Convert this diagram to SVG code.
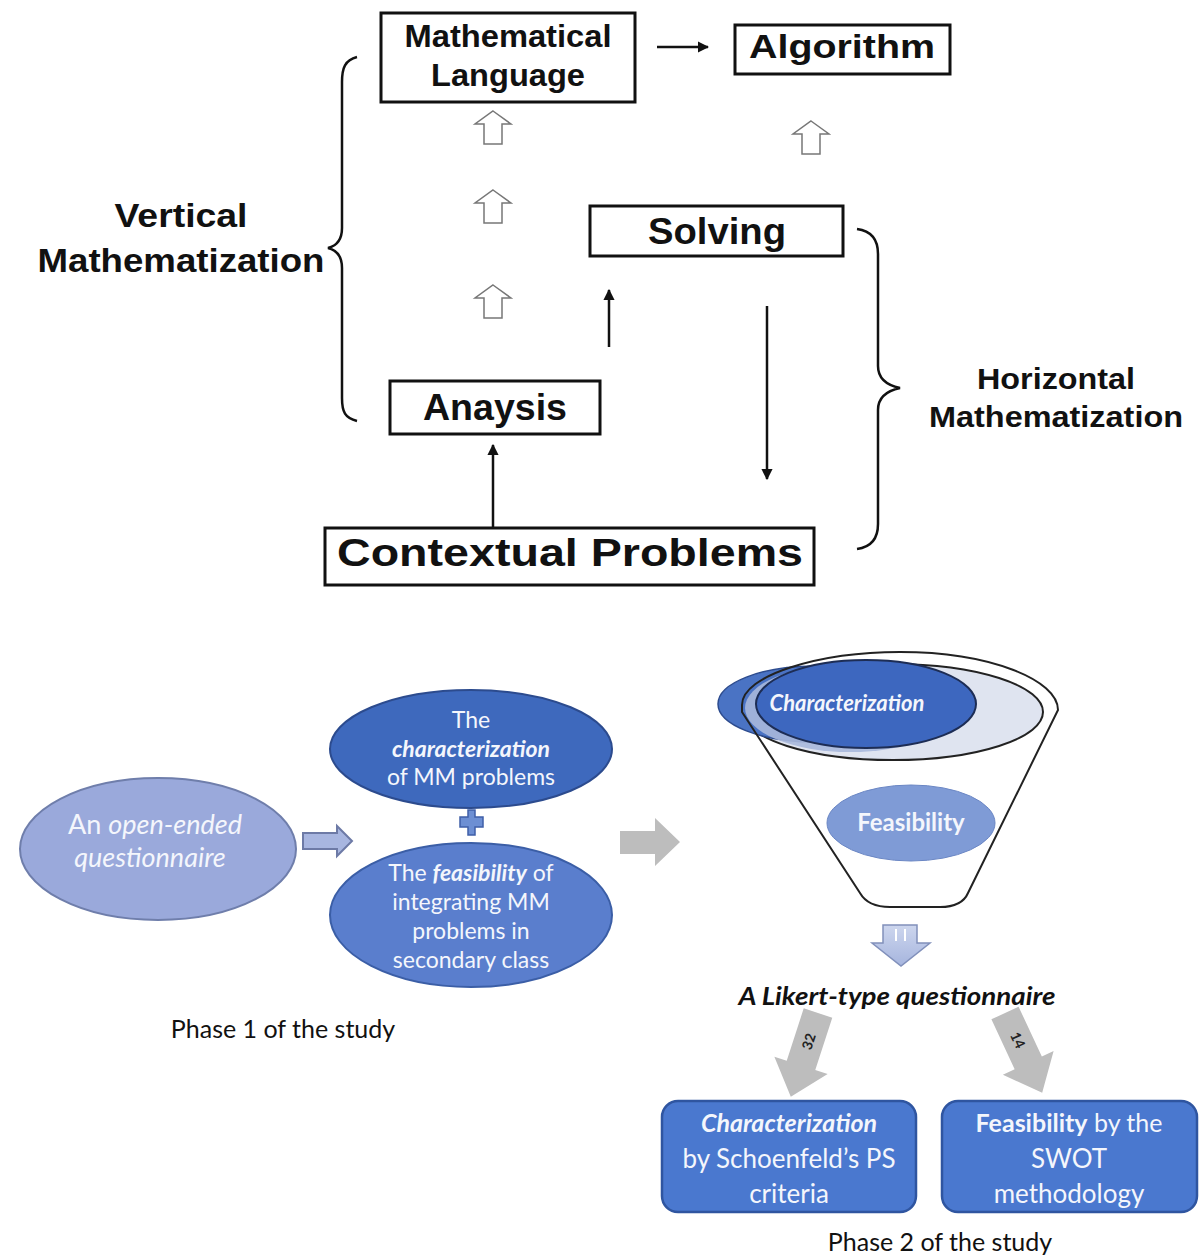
<svg xmlns="http://www.w3.org/2000/svg" width="1200" height="1256" viewBox="0 0 1200 1256">
<defs>
<style>
.box{fill:#fff;stroke:#111;stroke-width:3}
.bt{font-family:"Liberation Sans",Arial,sans-serif;font-weight:bold;fill:#111;text-anchor:middle}
.ln{stroke:#111;stroke-width:2.5;fill:none}
.brace{stroke:#111;stroke-width:2.5;fill:none}
.hol{fill:#fff;stroke:#777;stroke-width:1.5}
.ct{font-family:Lato,"Open Sans",sans-serif;text-anchor:middle}
.wt{fill:#f4f6fc}
.gray{fill:#bdbdbd}
</style>
<marker id="ah" viewBox="0 0 10 10" refX="9" refY="5" markerWidth="4.5" markerHeight="4.5" orient="auto">
<path d="M0,0 L10,5 L0,10 z" fill="#111"/>
</marker>
<linearGradient id="dg" x1="0" y1="0" x2="0" y2="1">
<stop offset="0" stop-color="#cdd6ee"/><stop offset="1" stop-color="#a6b5de"/>
</linearGradient>
</defs>

<g id="braces">
<path class="brace" d="M357,57 C345,60 342,68 342,82 L342,228 C342,240 336,246 328,248 C336,250 342,256 342,268 L342,398 C342,412 345,418 357,421"/>
<path class="brace" d="M857,229 C872,231 878,240 878,254 L878,366 C878,378 886,385 900,388 C886,391 878,398 878,410 L878,524 C878,538 872,547 857,549"/>
</g>

<g id="connectors">
<line class="ln" x1="657" y1="47" x2="708" y2="47" marker-end="url(#ah)"/>
<line class="ln" x1="609" y1="347" x2="609" y2="290" marker-end="url(#ah)"/>
<line class="ln" x1="767" y1="306" x2="767" y2="479" marker-end="url(#ah)"/>
<line class="ln" x1="493" y1="549" x2="493" y2="445" marker-end="url(#ah)"/>
<path class="hol" d="M493,111 L511,124 L502,124 L502,144 L484,144 L484,124 L475,124 Z"/>
<path class="hol" d="M493,190 L511,203 L502,203 L502,223 L484,223 L484,203 L475,203 Z"/>
<path class="hol" d="M493,285 L511,298 L502,298 L502,318 L484,318 L484,298 L475,298 Z"/>
<path class="hol" d="M811,121 L829,134 L820,134 L820,154 L802,154 L802,134 L793,134 Z"/>
<path d="M303,833 L337,833 L337,826 L352,841 L337,856 L337,849 L303,849 Z" fill="#a8b6e0" stroke="#6d7aa6" stroke-width="2"/>
<path d="M468,810 L475,810 L475,817 L483,817 L483,827 L475,827 L475,835 L468,835 L468,827 L460,827 L460,817 L468,817 Z" fill="#6d8fd3" stroke="#3f5fa8" stroke-width="1.5"/>
<path class="gray" d="M620,831 L655,831 L655,818 L680,842 L655,866 L655,854 L620,854 Z"/>
<path d="M883,925 L917,925 L917,943 L930,943 L901,966 L872,943 L883,943 Z" fill="url(#dg)" stroke="#8190bb" stroke-width="1.5"/>
<line x1="896" y1="929" x2="896" y2="941" stroke="#fff" stroke-width="2"/>
<line x1="905" y1="929" x2="905" y2="941" stroke="#fff" stroke-width="2"/>
<g transform="translate(818,1013) rotate(18)">
<path class="gray" d="M-15,0 L15,0 L15,55 L28,55 L0,88 L-28,55 L-15,55 Z"/>
<text transform="translate(0,30) rotate(-90)" x="0" y="5" font-family="Lato,sans-serif" font-weight="bold" font-size="14" fill="#222" text-anchor="middle">32</text>
</g>
<g transform="translate(1005,1013) rotate(-25)">
<path class="gray" d="M-15,0 L15,0 L15,55 L28,55 L0,88 L-28,55 L-15,55 Z"/>
<text transform="translate(0,30) rotate(90)" x="0" y="5" font-family="Lato,sans-serif" font-weight="bold" font-size="14" fill="#222" text-anchor="middle">14</text>
</g>
</g>

<g id="n-mathlang">
<rect class="box" x="381" y="13" width="254" height="89"/>
<text class="bt" x="508" y="47" font-size="32" textLength="207" lengthAdjust="spacingAndGlyphs">Mathematical</text>
<text class="bt" x="508" y="86" font-size="32" textLength="154" lengthAdjust="spacingAndGlyphs">Language</text>
</g>
<g id="n-algorithm">
<rect class="box" x="735" y="25" width="215" height="49"/>
<text class="bt" x="842" y="58" font-size="34" textLength="186" lengthAdjust="spacingAndGlyphs">Algorithm</text>
</g>
<g id="n-solving">
<rect class="box" x="590" y="206" width="253" height="50"/>
<text class="bt" x="717" y="244" font-size="36" textLength="138" lengthAdjust="spacingAndGlyphs">Solving</text>
</g>
<g id="n-anaysis">
<rect class="box" x="390" y="381" width="210" height="53"/>
<text class="bt" x="495" y="420" font-size="36" textLength="144" lengthAdjust="spacingAndGlyphs">Anaysis</text>
</g>
<g id="n-contextual">
<rect class="box" x="325" y="528" width="489" height="57"/>
<text class="bt" x="570" y="566" font-size="39" textLength="466" lengthAdjust="spacingAndGlyphs">Contextual Problems</text>
</g>
<g id="l-vertical">
<text class="bt" x="181" y="227" font-size="33" textLength="133" lengthAdjust="spacingAndGlyphs">Vertical</text>
<text class="bt" x="181" y="272" font-size="33" textLength="287" lengthAdjust="spacingAndGlyphs">Mathematization</text>
</g>
<g id="l-horizontal">
<text class="bt" x="1056" y="389" font-size="29" textLength="158" lengthAdjust="spacingAndGlyphs">Horizontal</text>
<text class="bt" x="1056" y="427" font-size="29" textLength="254" lengthAdjust="spacingAndGlyphs">Mathematization</text>
</g>

<g id="n-openended">
<ellipse cx="158" cy="849" rx="138" ry="71" fill="#9aa9db" stroke="#6f7eab" stroke-width="2"/>
<text class="ct wt" x="155" y="834" font-size="27"><tspan>An </tspan><tspan font-style="italic">open-ended</tspan></text>
<text class="ct wt" x="150" y="867" font-size="27" font-style="italic">questionnaire</text>
</g>
<g id="n-charact">
<ellipse cx="471" cy="749" rx="141" ry="59" fill="#3e69bd" stroke="#2c4b8e" stroke-width="2"/>
<text class="ct wt" x="471" y="728" font-size="23">The</text>
<text class="ct wt" x="471" y="757" font-size="23" font-weight="bold" font-style="italic">characterization</text>
<text class="ct wt" x="471" y="785" font-size="23">of MM problems</text>
</g>
<g id="n-feasib">
<ellipse cx="471" cy="915" rx="141" ry="72" fill="#5a7ecd" stroke="#3b5ea6" stroke-width="2"/>
<text class="ct wt" x="471" y="881" font-size="23"><tspan>The </tspan><tspan font-weight="bold" font-style="italic">feasibility</tspan><tspan> of</tspan></text>
<text class="ct wt" x="471" y="910" font-size="23">integrating MM</text>
<text class="ct wt" x="471" y="939" font-size="23">problems in</text>
<text class="ct wt" x="471" y="968" font-size="23">secondary class</text>
</g>
<text id="l-phase1" class="ct" x="283" y="1038" font-size="25" fill="#111">Phase 1 of the study</text>

<g id="n-funnel">
<ellipse cx="893" cy="712" rx="150" ry="48" fill="#dfe4f0" stroke="#222" stroke-width="2"/>
<ellipse cx="815" cy="704" rx="97" ry="38" fill="#4a73c4" stroke="#2c4b8e" stroke-width="1.5"/>
<ellipse cx="850" cy="708" rx="105" ry="44" fill="#a9b8dc" opacity="0.9"/>
<ellipse cx="866" cy="704" rx="110" ry="44" fill="#3d67bf" stroke="#1d2d55" stroke-width="2"/>
<text class="ct wt" x="847" y="711" font-size="22" font-weight="bold" font-style="italic">Characterization</text>
<ellipse cx="911" cy="823" rx="84" ry="38" fill="#7f9bd6" stroke="#6a86c4" stroke-width="1"/>
<text class="ct wt" x="911" y="831" font-size="24" font-weight="bold">Feasibility</text>
<path d="M742,705 C742,675 820,652 900,652 C990,652 1058,680 1058,710 L968,893 Q962,907 940,907 L890,907 Q868,907 860,893 L742,712 Z" fill="none" stroke="#222" stroke-width="2"/>
</g>
<text id="l-likert" class="ct" x="897" y="1005" font-size="24" font-weight="bold" font-style="italic" fill="#111" textLength="317" lengthAdjust="spacingAndGlyphs">A Likert-type questionnaire</text>

<g id="n-box1">
<rect x="662" y="1101" width="254" height="111" rx="16" fill="#4a78cf" stroke="#2f55a0" stroke-width="2.5"/>
<text class="ct wt" x="789" y="1132" font-size="25" font-weight="bold" font-style="italic">Characterization</text>
<text class="ct wt" x="789" y="1168" font-size="26">by Schoenfeld’s PS</text>
<text class="ct wt" x="789" y="1203" font-size="26">criteria</text>
</g>
<g id="n-box2">
<rect x="942" y="1101" width="255" height="111" rx="16" fill="#4a78cf" stroke="#2f55a0" stroke-width="2.5"/>
<text class="ct wt" x="1069" y="1132" font-size="25"><tspan font-weight="bold">Feasibility</tspan><tspan> by the</tspan></text>
<text class="ct wt" x="1069" y="1168" font-size="26">SWOT</text>
<text class="ct wt" x="1069" y="1203" font-size="26">methodology</text>
</g>
<text id="l-phase2" class="ct" x="940" y="1251" font-size="25" fill="#111">Phase 2 of the study</text>
</svg>
